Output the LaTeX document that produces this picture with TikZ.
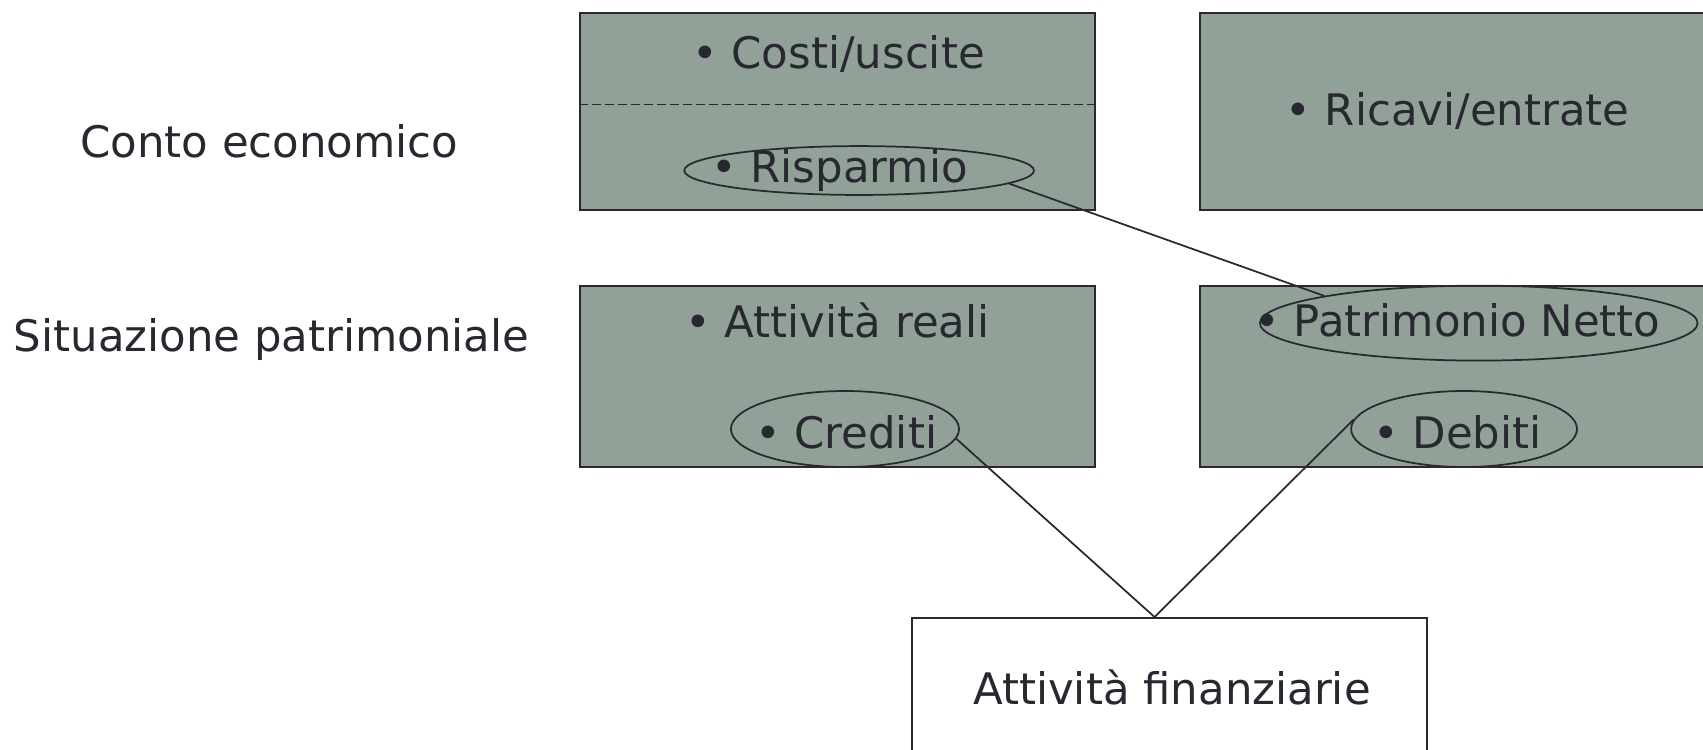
\documentclass[tikz,border=0pt]{standalone}
\usepackage{fontspec}
\setmainfont{DejaVu Sans}
\usetikzlibrary{shapes.geometric}
\definecolor{boxgreen}{RGB}{145,161,151}
\definecolor{ink}{RGB}{40,40,48}

\begin{document}
\begin{tikzpicture}
  [x=.5pt,y=-.5pt,every node/.style={font=\fontsize{20}{24}\selectfont,text=ink},
   box/.style={draw=ink,fill=boxgreen,line width=.9pt,minimum width=237pt,inner sep=0pt},
   oval/.style={draw=ink,ellipse,line width=.8pt,inner sep=0pt}]
  \clip (0,0) rectangle (1568,690);
  \node (ce) at (248,130) {Conto economico};
  \node (sp) at (250,313) {Situazione patrimoniale};

  \node[box,minimum height=90.5pt] (costi) at (771,102.5) {};
  \draw[ink,dash pattern=on 4pt off 2pt,line width=.7pt] ([yshift=3.25pt]costi.west) -- ([yshift=3.25pt]costi.east);
  \node[box,minimum height=90.5pt] (ricavi) at (1342,102.5) {• Ricavi/entrate};
  \node[box,minimum height=83.5pt] (reali) at (771,346.5) {};
  \node[box,minimum height=83.5pt] (netto) at (1342,346.5) {};
  \node[box,fill=white,minimum height=90.5pt] (fin) at (1077,659.5) {};

  \node (cu) at (772,50) {• Costi/uscite};
  \node (risp) at (773,157) {• Risparmio};
  \node (ar) at (771,295) {• Attività reali};
  \node (cred) at (779,398) {• Crediti};
  \node (pn) at (1342,295) {• Patrimonio Netto};
  \node (deb) at (1342,398) {• Debiti};
  \node (af) at (1079,633) {Attività finanziarie};

  \node[oval,minimum width=161pt,minimum height=22.5pt] (oRisp) at (791,157) {};
  \node[oval,minimum width=105pt,minimum height=35pt] (oCred) at (778,395) {};
  \node[oval,minimum width=201.5pt,minimum height=34.5pt] (oPatr) at (1361.5,297.5) {};
  \node[oval,minimum width=104pt,minimum height=35pt] (oDeb) at (1348,395) {};

  \draw[ink,line width=.8pt] (oRisp.-5) -- (oPatr.170);
  \foreach \from in {oCred.-5,oDeb.175}
    \draw[ink,line width=.8pt] (\from) -- ([xshift=-7pt]fin.north);

\end{tikzpicture}
\end{document}
